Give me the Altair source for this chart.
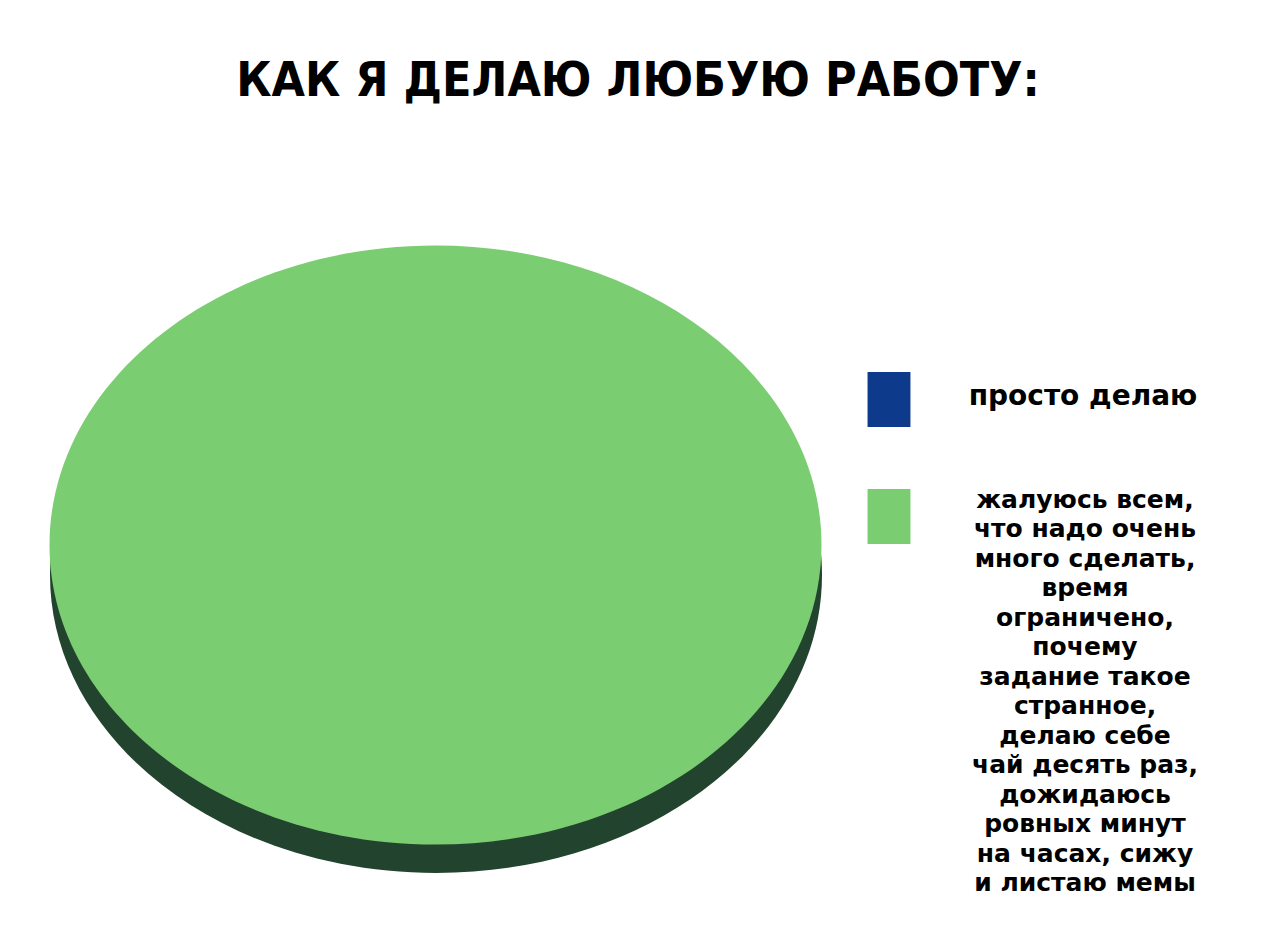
import altair as alt
import pandas as pd

# ---- data ----
TITLE = "КАК Я ДЕЛАЮ ЛЮБУЮ РАБОТУ:"
categories = ["просто делаю", "жалуюсь всем"]
shares = [0, 100]
label_lines = [
    ["просто делаю"],
    ["жалуюсь всем,", "что надо очень", "много сделать,", "время",
     "ограничено,", "почему", "задание такое", "странное,",
     "делаю себе", "чай десять раз,", "дожидаюсь", "ровных минут",
     "на часах, сижу", "и листаю мемы"],
]
colors = ["#0e3a8c", "#7bcd72"]

df = pd.DataFrame({
    "category": categories,
    "value": shares,
    "label": ["\n".join(l) for l in label_lines],
})

W, H = 1278, 937
PIE_W = 765
ELLIPSE = "M -1 0 A 1 0.776 0 1 0 1 0 A 1 0.776 0 1 0 -1 0 Z"
SHADOW = "M -1 0 A 1 0.772 0 1 0 1 0 A 1 0.772 0 1 0 -1 0 Z"
RECT = "M -0.78 -1 L 0.78 -1 L 0.78 1 L -0.78 1 Z"

color_scale = alt.Scale(domain=categories, range=colors)
size_scale = alt.Scale(domain=[0, 100], range=[0, PIE_W ** 2], zero=True)
y_leg = alt.Scale(type="point", domain=categories, range=[399.5, 516.5], padding=0)

base = alt.Chart(df)

shadow = base.mark_point(shape=SHADOW, filled=True, opacity=1, strokeWidth=0).encode(
    x=alt.value(436),
    y=alt.value(575),
    color=alt.value("#22432d"),
    size=alt.Size("value:Q", scale=alt.Scale(domain=[0, 100], range=[0, 772 ** 2]), legend=None),
)

pie = base.mark_point(shape=ELLIPSE, filled=True, opacity=1, strokeWidth=0).encode(
    x=alt.value(435.5),
    y=alt.value(545),
    color=alt.Color("category:N", scale=color_scale, legend=None),
    size=alt.Size("value:Q", scale=size_scale, legend=None),
)

swatches = base.mark_point(shape=RECT, filled=True, opacity=1, size=55 ** 2, strokeWidth=0).encode(
    x=alt.value(889),
    y=alt.Y("category:N", scale=y_leg, axis=None),
    color=alt.Color("category:N", scale=color_scale, legend=None),
)

label_font = dict(font="DejaVu Sans", fontWeight="bold", fontSize=25,
                  align="center", baseline="alphabetic", lineHeight=29.5,
                  lineBreak="\n", color="#000000")

lab1 = base.transform_filter(alt.datum.category == categories[0]).mark_text(
    dy=5.5, **{**label_font, "fontSize": 28}
).encode(
    x=alt.value(1083),
    y=alt.Y("category:N", scale=y_leg, axis=None),
    text="label:N",
)

lab2 = base.transform_filter(alt.datum.category == categories[1]).mark_text(
    dy=-9, **label_font
).encode(
    x=alt.value(1085),
    y=alt.Y("category:N", scale=y_leg, axis=None),
    text="label:N",
)

title = alt.Chart(pd.DataFrame({"t": [TITLE]})).mark_text(
    font="DejaVu Sans Condensed, DejaVu Sans",
    fontWeight="bold", fontSize=48, align="center", baseline="alphabetic",
    color="#000000",
).encode(x=alt.value(638), y=alt.value(96), text="t:N")

chart = alt.layer(shadow, pie, swatches, lab1, lab2, title).properties(
    width=W, height=H, padding=0,
    autosize=alt.AutoSizeParams(type="none"),
    background="#ffffff",
).configure_view(stroke=None)

chart.save("out.html", embed_options={"renderer": "svg", "actions": False})
